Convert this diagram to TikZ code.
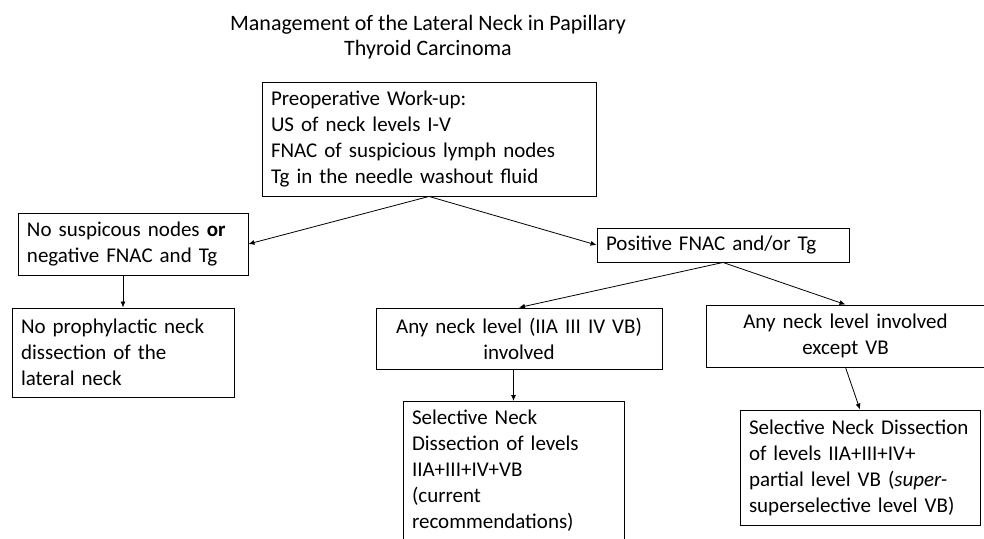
\documentclass[tikz,border=0pt]{standalone}
\usepackage{fontspec}
\setmainfont{Carlito}
\usetikzlibrary{arrows.meta}

\begin{document}
\begin{tikzpicture}[x=1pt,y=-1pt,
  font=\fontsize{21}{26}\selectfont,
  box/.style={draw,line width=0.9pt,inner xsep=9pt,inner ysep=0pt,align=left},
  arr/.style={-{Latex[length=6pt,width=5pt]},line width=0.8pt}]
  \useasboundingbox (0,0) rectangle (984,538);
  \node[align=center,font=\fontsize{22}{25}\selectfont] (title) at (428,37) {Management of the Lateral Neck in Papillary\\Thyroid Carcinoma};
  \node[box,text width=316pt,minimum height=114pt] (workup) at (429,139) {Preoperative Work-up:\\US of neck levels I-V\\FNAC of suspicious lymph nodes\\Tg in the needle washout fluid};
  \node[box,text width=212pt,minimum height=62pt] (nonode) at (133,244) {No suspicous nodes \textbf{or}\\negative FNAC and Tg};
  \node[box,text width=234pt,minimum height=34pt] (positive) at (723,245) {Positive FNAC and/or Tg};
  \node[box,text width=204pt,minimum height=89pt] (proph) at (123,352.5) {No prophylactic neck\\dissection of the\\lateral neck};
  \node[box,align=center,text width=268pt,minimum height=61pt] (anyiv) at (519,338.5) {Any neck level (IIA III IV VB)\\involved};
  \node[box,align=center,text width=261pt,minimum height=62pt] (anyexc) at (845.5,336) {Any neck level involved\\except VB};
  \node[box,anchor=north,text width=203pt,inner ysep=8pt] (snd1) at (513.5,401) {Selective Neck\\Dissection of levels\\IIA+III+IV+VB\\(current\\recommendations)\\\mbox{}};
  \node[box,text width=222pt,minimum height=115pt] (snd2) at (860,467.5) {Selective Neck Dissection\\of levels IIA+III+IV+\\partial level VB (\textit{super-}\\superselective level VB)};
  \draw[arr] (workup.south) -- (nonode.east);
  \draw[arr] (workup.south) -- (positive.west);
  \draw[arr] (nonode.south -| proph.north) -- (proph.north);
  \draw[arr] (positive.south) -- (anyiv.north);
  \draw[arr] (positive.south) -- (anyexc.north);
  \draw[arr] (anyiv.south -| snd1.north) -- (snd1.north);
  \draw[arr] (anyexc.south) -- (snd2.north);
\end{tikzpicture}
\end{document}
